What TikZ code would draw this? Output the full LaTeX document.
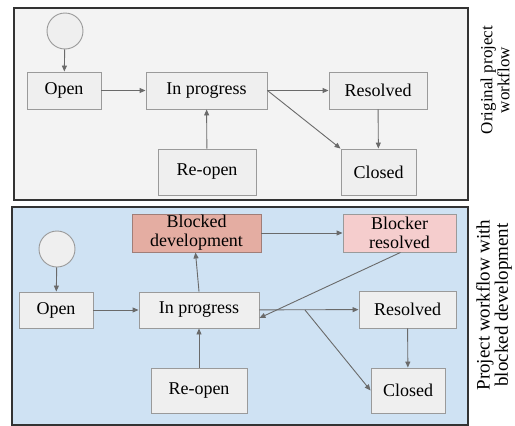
\documentclass[tikz,border=0pt]{standalone}
\usepackage{fontspec}
\setmainfont{Liberation Serif}
\newfontfamily\statefont{Liberation Serif}
\usetikzlibrary{arrows.meta}
\definecolor{panelgray}{HTML}{F3F3F3}
\definecolor{panelblue}{HTML}{CFE2F3}
\definecolor{nodefill}{HTML}{EFEFEF}
\definecolor{nodeline}{HTML}{9A9A9A}
\definecolor{arrowcol}{HTML}{6A6A6A}
\definecolor{blockedfill}{HTML}{E4ADA2}
\definecolor{blockedline}{HTML}{A07E78}
\definecolor{blockerfill}{HTML}{F5CDCD}
\definecolor{frame}{HTML}{333333}
\tikzset{
  panel/.style={draw=frame, line width=1.3pt},
  state/.style={draw=nodeline, fill=nodefill, line width=0.9pt, inner sep=0pt, font=\statefont\fontsize{18}{19}\selectfont, align=center},
  startc/.style={circle, draw=nodeline, fill=nodefill, line width=0.9pt, minimum size=36pt, inner sep=0pt},
  flow/.style={draw=arrowcol, line width=0.9pt, -{Triangle[length=6pt,width=5pt]}},
  sidelabel/.style={rotate=90, align=center}
}
\begin{document}
\begin{tikzpicture}[x=1pt,y=-1pt]
\useasboundingbox (0,0) rectangle (515,426);
% panels
\draw[panel, fill=panelgray] (14,8) rectangle (468,200);
\draw[panel, fill=panelblue] (12,207) rectangle (468,425);
% top panel nodes
\node[startc] (s1) at (65,31) {};
\node[state, minimum width=74pt, minimum height=37pt] (o1) at (64,90.5) {Open};
\node[state, minimum width=121pt, minimum height=37pt] (p1) at (206.5,90.5) {In progress};
\node[state, minimum width=98pt, minimum height=37pt] (r1) at (378,90.5) {Resolved};
\node[state, minimum width=98pt, minimum height=46pt] (ro1) at (207,172) {Re-open};
\node[state, minimum width=75pt, minimum height=46pt] (c1) at (378.5,172) {Closed};
\draw[flow] (s1) -- (o1);
\draw[flow] (o1) -- (p1);
\draw[flow] (p1) -- (r1);
\draw[flow] (p1.east) -- (c1.north west);
\draw[flow] (r1) -- (c1);
\draw[flow] (ro1) -- (p1);
% bottom panel nodes
\node[startc] (s2) at (57,249) {};
\node[state, fill=blockedfill, draw=blockedline, minimum width=129pt, minimum height=38pt] (bd) at (196.5,233) {Blocked\\development};
\node[state, fill=blockerfill, minimum width=113pt, minimum height=38pt] (br) at (399.5,233) {Blocker\\resolved};
\node[state, minimum width=74pt, minimum height=36pt] (o2) at (56,310) {Open};
\node[state, minimum width=120pt, minimum height=36pt] (p2) at (199,310) {In progress};
\node[state, minimum width=97pt, minimum height=37pt] (r2) at (407.5,309.5) {Resolved};
\node[state, minimum width=96pt, minimum height=45pt] (ro2) at (199,390.5) {Re-open};
\node[state, minimum width=74pt, minimum height=45pt] (c2) at (408,390.5) {Closed};
\coordinate (fork) at (305,310);
\draw[flow] (s2) -- (o2);
\draw[flow] (o2) -- (p2);
\draw[flow] (p2) -- (r2);
\draw[flow] (fork) -- (c2.west);
\draw[flow] (r2) -- (c2);
\draw[flow] (ro2) -- (p2);
\draw[flow] (p2.north) -- ([xshift=-1pt]bd.south);
\draw[flow] (bd) -- (br);
\draw[flow] ([xshift=1pt]br.south) -- ([yshift=-8pt]p2.east);
% side labels
\node[sidelabel, font=\fontsize{17}{17}\selectfont] (l1) at (495,80) {Original project\\workflow};
\node[sidelabel, font=\fontsize{19}{17}\selectfont] (l2) at (494,305) {Project workflow with\\blocked development};
\end{tikzpicture}
\end{document}
